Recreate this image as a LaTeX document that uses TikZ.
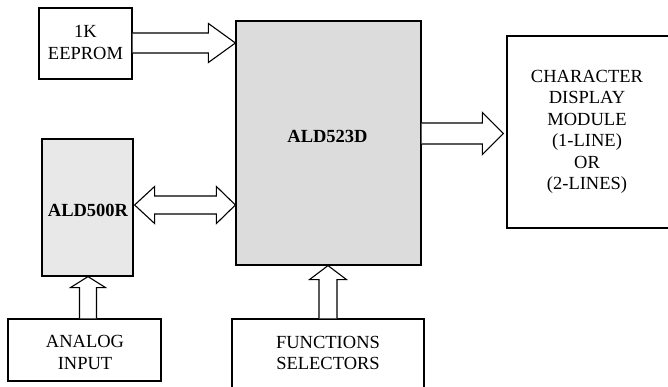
\documentclass[tikz,border=0pt]{standalone}
\usepackage{fontspec}
\setmainfont{Liberation Serif}
\usetikzlibrary{calc}
\definecolor{chipA}{HTML}{DCDCDC}
\definecolor{chipB}{HTML}{E8E8E8}
\tikzset{
  blk/.style={draw, line width=1.2pt, inner sep=0pt},
  txt/.style={font=\fontsize{18.5}{21.5}\selectfont, align=center, inner sep=0pt},
  btxt/.style={txt, font=\fontsize{18.5}{21.5}\selectfont\bfseries},
  barrow/.style={draw, fill=white, line width=1.1pt, line join=miter}
}
\begin{document}
\begin{tikzpicture}[x=1pt,y=1pt]
\useasboundingbox (0,0) rectangle (668,387);
% boxes
\node[blk, minimum width=93pt, minimum height=71pt,
      label={[txt,yshift=1pt]center:{1K\\EEPROM}}] (eeprom) at (85.5,343.5) {};
\node[blk, fill=chipA, minimum width=185pt, minimum height=244pt,
      label={[btxt,xshift=-1pt,yshift=7pt]center:ALD523D}] (ald523) at (328.5,244) {};
\node[blk, minimum width=163pt, minimum height=192pt,
      label={[txt,xshift=-1.5pt]center:{CHARACTER\\DISPLAY\\MODULE\\(1-LINE)\\OR\\(2-LINES)}}] (display) at (588.5,255) {};
\node[blk, fill=chipB, minimum width=91pt, minimum height=137pt,
      label={[btxt,xshift=0.5pt,yshift=-2.5pt]center:ALD500R}] (ald500) at (87.5,179.5) {};
\node[blk, minimum width=153pt, minimum height=62pt,
      label={[txt,xshift=0.5pt,yshift=-2.5pt]center:{ANALOG\\INPUT}}] (analog) at (84.5,37) {};
\node[blk, minimum width=192pt, minimum height=71pt,
      label={[txt,yshift=1.5pt]center:{FUNCTIONS\\SELECTORS}}] (funcs) at (328,32.5) {};
% block arrows
\path[barrow] let \p1=(eeprom.east), \p2=(ald523.west) in
  (\x1,354pt) -- (\x2-27pt,354pt) -- (\x2-27pt,363.5pt) -- (\x2,344pt)
  -- (\x2-27pt,324.5pt) -- (\x2-27pt,334pt) -- (\x1,334pt);
\path[barrow] let \p1=(ald500.east), \p2=(ald523.west) in
  (\x1+1pt,182pt) -- (\x1+21pt,200.5pt) -- (\x1+21pt,191pt) -- (\x2-19pt,191pt)
  -- (\x2-19pt,200.5pt) -- (\x2,182pt) -- (\x2-19pt,163.5pt) -- (\x2-19pt,173pt)
  -- (\x1+21pt,173pt) -- (\x1+21pt,163.5pt) -- cycle;
\path[barrow] let \p1=(ald523.east), \p2=(display.west) in
  (\x1,264pt) -- (\x2-24pt,264pt) -- (\x2-24pt,274.5pt) -- (\x2-3pt,253.5pt)
  -- (\x2-24pt,232.5pt) -- (\x2-24pt,243pt) -- (\x1,243pt);
\path[barrow] let \p1=(analog.north), \p2=(ald500.south) in
  (79.5pt,\y1) -- (79.5pt,\y2-11pt) -- (70.5pt,\y2-11pt) -- (88pt,\y2)
  -- (105.5pt,\y2-11pt) -- (96.5pt,\y2-11pt) -- (96.5pt,\y1);
\path[barrow] let \p1=(funcs.north), \p2=(ald523.south) in
  (319pt,\y1) -- (319pt,\y2-14pt) -- (309.5pt,\y2-14pt) -- (328pt,\y2)
  -- (346.5pt,\y2-14pt) -- (337pt,\y2-14pt) -- (337pt,\y1);
\end{tikzpicture}
\end{document}
